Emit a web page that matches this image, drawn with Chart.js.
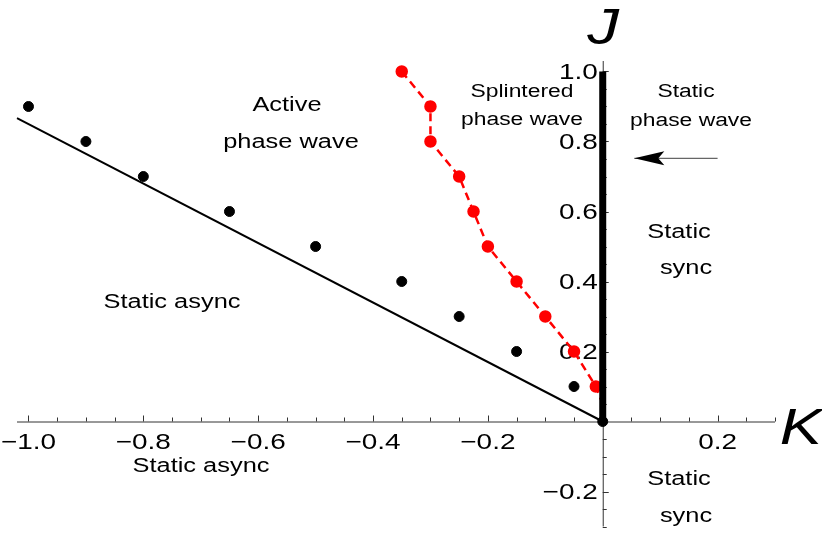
<!DOCTYPE html>
<html>
<head>
<meta charset="utf-8">
<script src="https://cdn.jsdelivr.net/npm/chart.js@4"></script>
<style>
  html, body { margin: 0; padding: 0; background: #fff; }
  #wrap { width: 822px; height: 534px; position: relative; }
</style>
</head>
<body>
<div id="wrap"><canvas id="phaseChart"></canvas></div>
<script>
// boundary line and numerics (K, J)
const lineK = [-1.02, 0];
const lineJ = [0.867, 0];

const blackK = [-1.0, -0.9, -0.8, -0.65, -0.5, -0.35, -0.25, -0.15, -0.05, 0];
const blackJ = [0.9, 0.8, 0.7, 0.6, 0.5, 0.4, 0.3, 0.2, 0.1, 0];

const redK = [-0.35, -0.3, -0.3, -0.25, -0.225, -0.2, -0.15, -0.1, -0.05, -0.012, 0];
const redJ = [1.0, 0.9, 0.8, 0.7, 0.6, 0.5, 0.4, 0.3, 0.2, 0.1, 0.05];

const syncK = [0, 0];
const syncJ = [0, 1.0];

const arrowK = [0.2, 0.055];
const arrowJ = [0.752, 0.752];

const xTicks = [-1.0, -0.8, -0.6, -0.4, -0.2, 0.2];
const yTicks = [-0.2, 0.2, 0.4, 0.6, 0.8, 1.0];

function pts(xs, ys) {
  return xs.map((x, i) => ({ x: x, y: ys[i] }));
}

const FONT = '"Liberation Sans", Arial, sans-serif';
const STRETCH = 1.27; // the original text is a bit wider than Liberation Sans

function txt(ctx, s, x, y) {
  ctx.save();
  ctx.translate(x, y);
  ctx.scale(STRETCH, 1);
  ctx.fillText(s, 0, 0);
  ctx.restore();
}

// axes drawn Mathematica-style, crossing at the origin
const axesPlugin = {
  id: 'axesPlugin',
  beforeDatasetsDraw(chart) {
    const ctx = chart.ctx;
    const xs = chart.scales.x, ys = chart.scales.y;
    const x0 = xs.getPixelForValue(0), y0 = ys.getPixelForValue(0);
    ctx.save();
    ctx.strokeStyle = '#333';
    ctx.lineWidth = 1;
    ctx.beginPath();
    ctx.moveTo(xs.left, y0 + 0.5); ctx.lineTo(xs.right, y0 + 0.5);
    ctx.moveTo(x0 + 0.5, ys.top); ctx.lineTo(x0 + 0.5, ys.bottom);
    ctx.stroke();

    ctx.beginPath();
    for (let v = -1.0; v <= 0.3001; v += 0.05) {
      const r = Math.round(v * 100);
      if (r === 0) continue;
      const px = Math.round(xs.getPixelForValue(v)) + 0.5;
      const len = r % 20 === 0 ? 6 : 4;
      ctx.moveTo(px, y0); ctx.lineTo(px, y0 - len);
    }
    for (let v = -0.3; v <= 1.0001; v += 0.05) {
      const r = Math.round(v * 100);
      if (r === 0) continue;
      const py = Math.round(ys.getPixelForValue(v)) + 0.5;
      const len = r % 20 === 0 ? 6 : 4;
      ctx.moveTo(x0, py); ctx.lineTo(x0 + len, py);
    }
    ctx.stroke();

    ctx.fillStyle = '#000';
    ctx.font = '22px ' + FONT;
    ctx.textAlign = 'center';
    ctx.textBaseline = 'middle';
    xTicks.forEach(v => {
      const s = v.toFixed(1).replace('-', '\u2212');
      txt(ctx, s, xs.getPixelForValue(v), y0 + 21);
    });
    ctx.textAlign = 'right';
    yTicks.forEach(v => {
      const s = v.toFixed(1).replace('-', '\u2212');
      txt(ctx, s, x0 - 5, ys.getPixelForValue(v) + 1);
    });
    ctx.restore();
  },
  afterDatasetsDraw(chart) {
    const ctx = chart.ctx;
    const xs = chart.scales.x, ys = chart.scales.y;
    ctx.save();
    // arrow head
    const tx = xs.getPixelForValue(arrowK[1]), ty = ys.getPixelForValue(arrowJ[1]);
    ctx.fillStyle = '#000';
    ctx.beginPath();
    ctx.moveTo(tx, ty);
    ctx.lineTo(tx + 30, ty - 7);
    ctx.lineTo(tx + 24, ty);
    ctx.lineTo(tx + 30, ty + 7);
    ctx.closePath();
    ctx.fill();

    // axis names
    ctx.font = 'italic 50px ' + FONT;
    ctx.textAlign = 'center';
    ctx.textBaseline = 'middle';
    txt(ctx, 'J', 603, 30);
    txt(ctx, 'K', 801, 430);

    // region labels
    ctx.font = '20px ' + FONT;
    const labels = [
      ['Active', 287, 105], ['phase wave', 291, 142],
      ['Static async', 172, 302], ['Static async', 201, 466],
      ['Static', 679, 232], ['sync', 686, 268],
      ['Static', 679, 479], ['sync', 686, 516]
    ];
    labels.forEach(l => txt(ctx, l[0], l[1], l[2]));
    ctx.font = '18px ' + FONT;
    const small = [
      ['Splintered', 522, 92], ['phase wave', 522, 120],
      ['Static', 686, 92], ['phase wave', 691, 121]
    ];
    small.forEach(l => txt(ctx, l[0], l[1], l[2]));
    ctx.restore();
  }
};

new Chart(document.getElementById('phaseChart'), {
  type: 'scatter',
  data: {
    datasets: [
      {
        data: pts(blackK, blackJ),
        backgroundColor: '#000', borderColor: '#000',
        pointRadius: 5, pointHoverRadius: 5, order: 1
      },
      {
        data: pts(syncK, syncJ), showLine: true,
        borderColor: '#000', borderWidth: 7, borderCapStyle: 'butt',
        pointRadius: 0, order: 2
      },
      {
        data: pts(redK, redJ), showLine: true,
        borderColor: '#ff0000', backgroundColor: '#ff0000',
        borderWidth: 2.5, borderDash: [8, 5],
        pointRadius: redK.map((k, i) => i === redK.length - 1 ? 0 : 5),
        order: 3
      },
      {
        data: pts(lineK, lineJ), showLine: true,
        borderColor: '#000', borderWidth: 2,
        pointRadius: 0, order: 4
      },
      {
        data: pts(arrowK, arrowJ), showLine: true,
        borderColor: '#666', borderWidth: 1.2,
        pointRadius: 0, order: 5
      }
    ]
  },
  options: {
    responsive: true,
    maintainAspectRatio: false,
    animation: false,
    clip: false,
    layout: { padding: { left: 17, right: 47, top: 61, bottom: 0 } },
    plugins: { legend: { display: false }, tooltip: { enabled: false } },
    scales: {
      x: { type: 'linear', min: -1.02, max: 0.3, display: false },
      y: { type: 'linear', min: -0.3, max: 1.03, display: false }
    }
  },
  plugins: [axesPlugin]
});
</script>
</body>
</html>
